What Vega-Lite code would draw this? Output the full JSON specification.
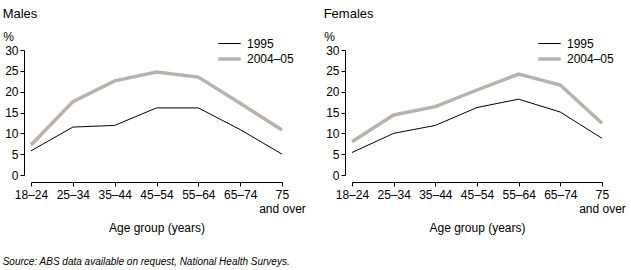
{
  "$schema": "https://vega.github.io/schema/vega-lite/v6.json",
  "background": "white",
  "padding": {"left": 2, "top": 8, "right": 5, "bottom": 4},
  "datasets": {
    "d": [
      {"sex": "Males", "age": "18–24", "series": "1995", "value": 5.8},
      {"sex": "Males", "age": "25–34", "series": "1995", "value": 11.5},
      {"sex": "Males", "age": "35–44", "series": "1995", "value": 11.9},
      {"sex": "Males", "age": "45–54", "series": "1995", "value": 16.1},
      {"sex": "Males", "age": "55–64", "series": "1995", "value": 16.1},
      {"sex": "Males", "age": "65–74", "series": "1995", "value": 10.9},
      {"sex": "Males", "age": "75 and over", "series": "1995", "value": 5.0},
      {"sex": "Males", "age": "18–24", "series": "2004–05", "value": 7.2},
      {"sex": "Males", "age": "25–34", "series": "2004–05", "value": 17.6},
      {"sex": "Males", "age": "35–44", "series": "2004–05", "value": 22.6},
      {"sex": "Males", "age": "45–54", "series": "2004–05", "value": 24.7},
      {"sex": "Males", "age": "55–64", "series": "2004–05", "value": 23.5},
      {"sex": "Males", "age": "65–74", "series": "2004–05", "value": 17.2},
      {"sex": "Males", "age": "75 and over", "series": "2004–05", "value": 10.8},
      {"sex": "Females", "age": "18–24", "series": "1995", "value": 5.4},
      {"sex": "Females", "age": "25–34", "series": "1995", "value": 10.0},
      {"sex": "Females", "age": "35–44", "series": "1995", "value": 11.9},
      {"sex": "Females", "age": "45–54", "series": "1995", "value": 16.2},
      {"sex": "Females", "age": "55–64", "series": "1995", "value": 18.2},
      {"sex": "Females", "age": "65–74", "series": "1995", "value": 15.1},
      {"sex": "Females", "age": "75 and over", "series": "1995", "value": 8.8},
      {"sex": "Females", "age": "18–24", "series": "2004–05", "value": 8.0},
      {"sex": "Females", "age": "25–34", "series": "2004–05", "value": 14.4},
      {"sex": "Females", "age": "35–44", "series": "2004–05", "value": 16.4},
      {"sex": "Females", "age": "45–54", "series": "2004–05", "value": 20.4},
      {"sex": "Females", "age": "55–64", "series": "2004–05", "value": 24.2},
      {"sex": "Females", "age": "65–74", "series": "2004–05", "value": 21.6},
      {"sex": "Females", "age": "75 and over", "series": "2004–05", "value": 12.4}
    ]
  },
  "data": {"name": "d"},
  "config": {
    "font": "Liberation Sans",
    "view": {"stroke": null},
    "axis": {"domainColor": "black", "tickColor": "black", "labelColor": "black", "titleColor": "black", "grid": false, "titleFontWeight": "normal", "labelFont": "Liberation Sans", "titleFont": "Liberation Sans"},
    "legend": {"labelColor": "black", "labelFont": "Liberation Sans"},
    "title": {"color": "black", "font": "Liberation Sans"}
  },
  "title": {"text": "Source: ABS data available on request, National Health Surveys.", "orient": "bottom", "anchor": "start", "frame": "bounds", "fontStyle": "italic", "fontWeight": "normal", "fontSize": 10, "offset": 24},
  "bounds": "flush",
  "spacing": 70,
  "resolve": {"scale": {"color": "independent", "strokeWidth": "independent", "x": "independent", "y": "independent"}, "legend": {"color": "independent", "strokeWidth": "independent"}},
  "hconcat": [
    {
      "width": 251, "height": 125,
      "title": {"text": "Males", "anchor": "start", "fontSize": 13, "fontWeight": "normal", "offset": 9},
      "transform": [{"filter": "datum.sex == 'Males'"}],
      "mark": {"type": "line"},
      "encoding": {
        "x": {"field": "age", "type": "ordinal", "sort": ["18–24", "25–34", "35–44", "45–54", "55–64", "65–74", "75 and over"], "scale": {"type": "point", "padding": 0},
          "axis": {"offset": 7, "tickSize": 4, "labelAngle": 0, "labelPadding": 3, "labelFontSize": 12, "labelLineHeight": 14, "labelExpr": "datum.label == '75 and over' ? ['75', 'and over'] : datum.label", "title": "Age group (years)", "titleFontSize": 12, "titlePadding": 8}},
        "y": {"field": "value", "type": "quantitative", "scale": {"domain": [0, 30], "nice": false},
          "axis": {"values": [0, 5, 10, 15, 20, 25, 30], "offset": 7, "tickSize": 4, "labelPadding": 2, "labelFontSize": 12, "title": "%", "titleAngle": 0, "titleAlign": "center", "titleBaseline": "alphabetic", "titleX": -16, "titleY": -10, "titleFontSize": 12}},
        "color": {"field": "series", "type": "nominal", "scale": {"domain": ["1995", "2004–05"], "range": ["#000000", "#bab3ad"]},
          "legend": {"title": null, "orient": "none", "legendX": 189, "legendY": -14.5, "symbolType": "M-1.5,0H1.5", "symbolSize": 225, "labelFontSize": 12, "rowPadding": 0, "labelOffset": 8}},
        "strokeWidth": {"field": "series", "type": "nominal", "scale": {"domain": ["1995", "2004–05"], "range": [1, 3.5]},
          "legend": {"title": null, "orient": "none", "legendX": 189, "legendY": -14.5, "symbolType": "M-1.5,0H1.5", "symbolSize": 225, "labelFontSize": 12, "rowPadding": 0, "labelOffset": 8}}
      }
    },
    {
      "width": 250, "height": 125,
      "title": {"text": "Females", "anchor": "start", "fontSize": 13, "fontWeight": "normal", "offset": 9},
      "transform": [{"filter": "datum.sex == 'Females'"}],
      "mark": {"type": "line"},
      "encoding": {
        "x": {"field": "age", "type": "ordinal", "sort": ["18–24", "25–34", "35–44", "45–54", "55–64", "65–74", "75 and over"], "scale": {"type": "point", "padding": 0},
          "axis": {"offset": 7, "tickSize": 4, "labelAngle": 0, "labelPadding": 3, "labelFontSize": 12, "labelLineHeight": 14, "labelExpr": "datum.label == '75 and over' ? ['75', 'and over'] : datum.label", "title": "Age group (years)", "titleFontSize": 12, "titlePadding": 8}},
        "y": {"field": "value", "type": "quantitative", "scale": {"domain": [0, 30], "nice": false},
          "axis": {"values": [0, 5, 10, 15, 20, 25, 30], "offset": 7, "tickSize": 4, "labelPadding": 2, "labelFontSize": 12, "title": "%", "titleAngle": 0, "titleAlign": "center", "titleBaseline": "alphabetic", "titleX": -16, "titleY": -10, "titleFontSize": 12}},
        "color": {"field": "series", "type": "nominal", "scale": {"domain": ["1995", "2004–05"], "range": ["#000000", "#bab3ad"]},
          "legend": {"title": null, "orient": "none", "legendX": 188, "legendY": -14.5, "symbolType": "M-1.5,0H1.5", "symbolSize": 225, "labelFontSize": 12, "rowPadding": 0, "labelOffset": 8}},
        "strokeWidth": {"field": "series", "type": "nominal", "scale": {"domain": ["1995", "2004–05"], "range": [1, 3.5]},
          "legend": {"title": null, "orient": "none", "legendX": 188, "legendY": -14.5, "symbolType": "M-1.5,0H1.5", "symbolSize": 225, "labelFontSize": 12, "rowPadding": 0, "labelOffset": 8}}
      }
    }
  ]
}
